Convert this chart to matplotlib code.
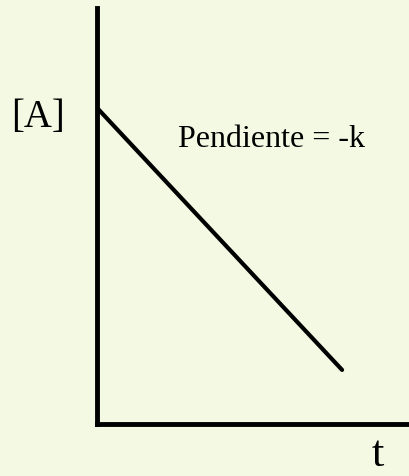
import matplotlib
matplotlib.use("Agg")
import matplotlib.pyplot as plt

# zero-order kinetics sketch: [A] falls linearly with t
t = [0.0, 0.783]
conc = [0.76, 0.13]
slope_label = "Pendiente = -k"
y_label = "[A]"
x_label = "t"

bg = "#f3f9e3"
plt.rcParams['font.family'] = ['Liberation Serif', 'DejaVu Serif']

fig = plt.figure(figsize=(4.10, 4.76), dpi=100, facecolor=bg)
ax = fig.add_axes([97 / 410, 52 / 476, 313 / 410, 416 / 476])
ax.set_facecolor(bg)
ax.set_xlim(0, 1)
ax.set_ylim(0, 1)

ax.plot(t, conc, color="black", lw=3, solid_capstyle="round")

for side in ["top", "right"]:
    ax.spines[side].set_visible(False)
for side in ["left", "bottom"]:
    ax.spines[side].set_linewidth(3.5)
    ax.spines[side].set_color("black")
ax.set_xticks([])
ax.set_yticks([])

fig.text(38 / 410, 1 - 118 / 476, y_label, fontsize=28, ha="center", va="center")
ax.text(0.556, 0.685, slope_label, fontsize=23, ha="center", va="center")
fig.text(378 / 410, 1 - 455 / 476, x_label, fontsize=32, ha="center", va="center")

fig.savefig("out.png", dpi=100, facecolor=bg)
